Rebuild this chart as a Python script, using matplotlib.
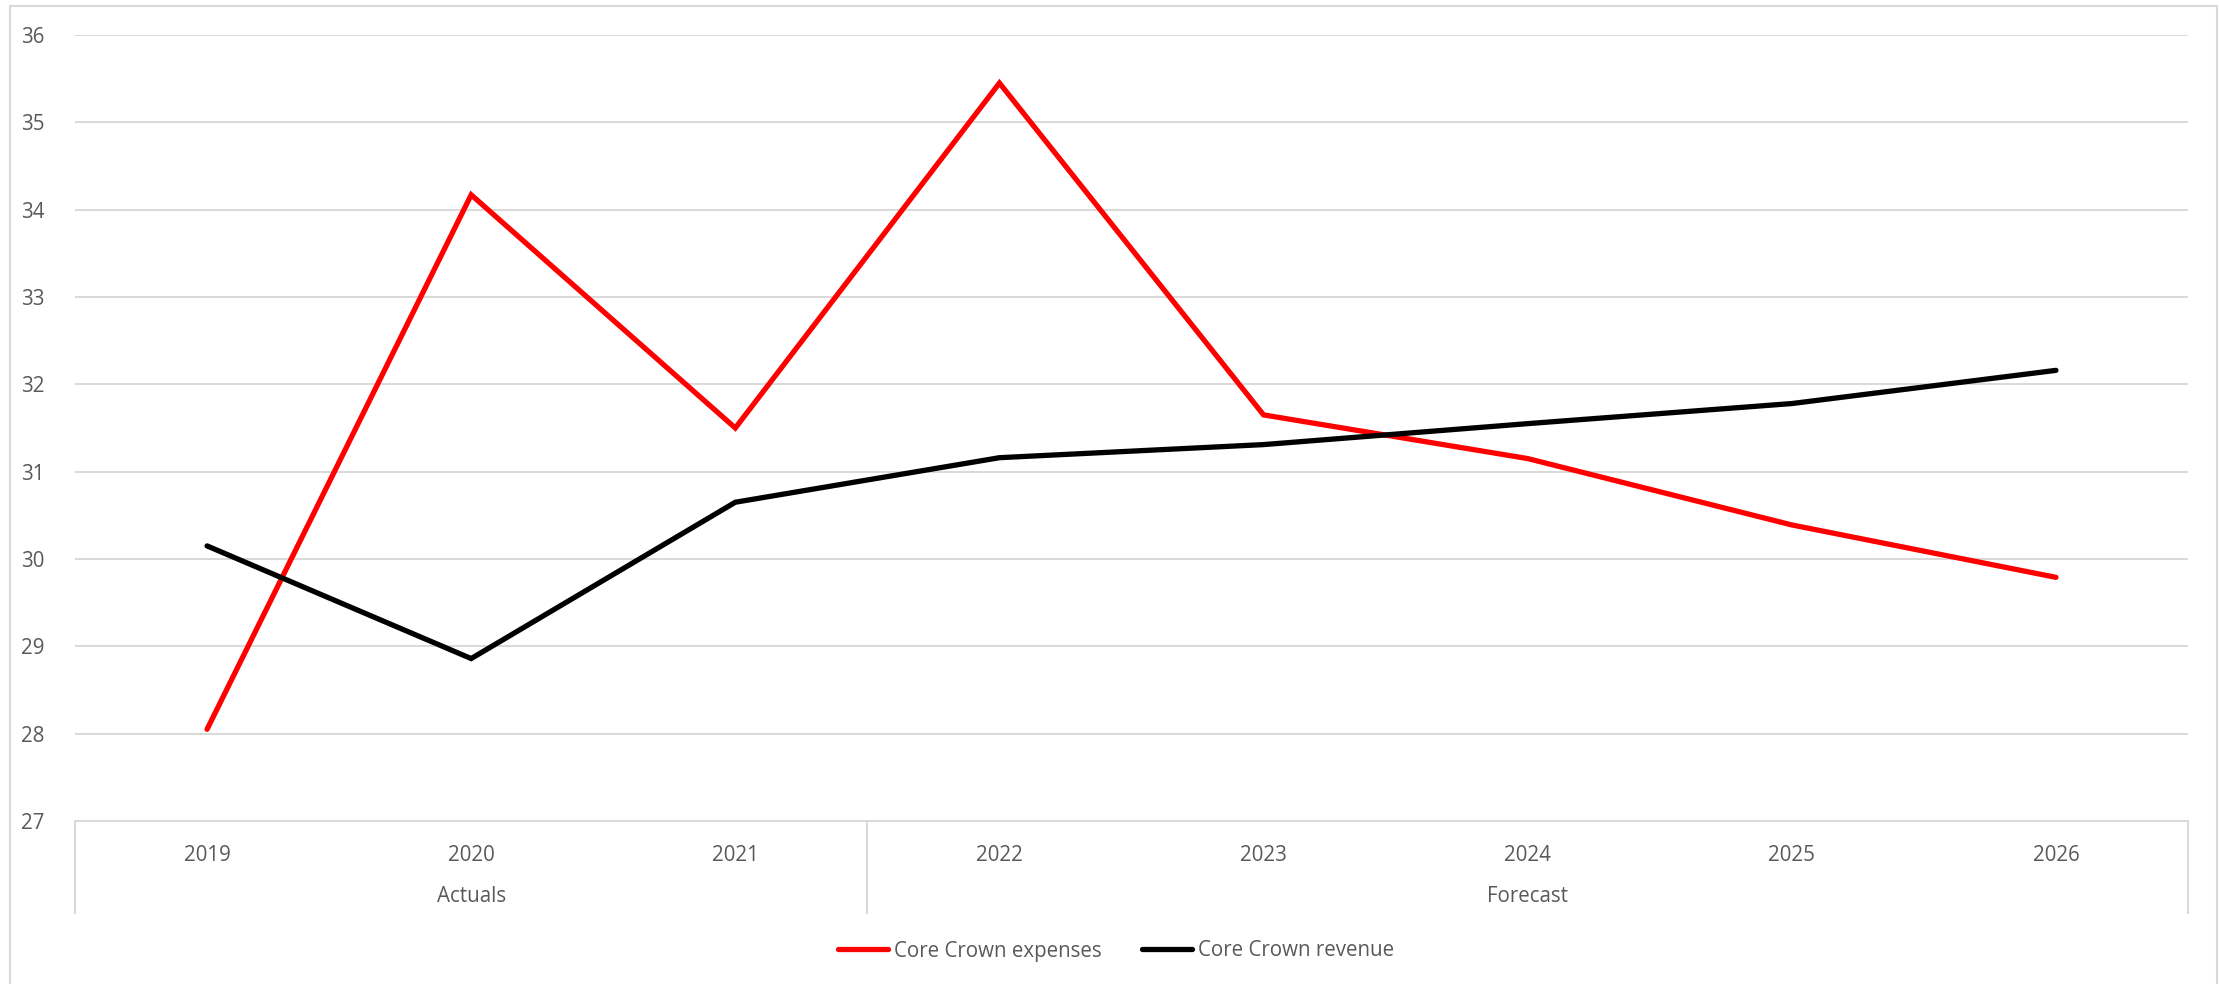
import matplotlib.pyplot as plt
from matplotlib.patches import Rectangle

# Données
years = ["2019", "2020", "2021", "2022", "2023", "2024", "2025", "2026"]
groups = ["Actuals", "Forecast"]
group_sizes = [3, 5]
expenses = [28.05, 34.17, 31.5, 35.45, 31.65, 31.15, 30.39, 29.79]
revenue = [30.15, 28.86, 30.65, 31.16, 31.31, 31.55, 31.78, 32.16]

plt.rcParams['font.family'] = ['Open Sans', 'DejaVu Sans']
txt = "#595959"
grid = "#d9d9d9"
fs = 14.8

W, H = 2219, 984
fig = plt.figure(figsize=(W / 100, H / 100), dpi=100)
ax = fig.add_axes([75 / W, 1 - 821 / H, (2188 - 75) / W, (821 - 35) / H])

x = range(len(years))
ax.plot(x, expenses, color="#ff0000", lw=3.8, solid_capstyle="round",
        solid_joinstyle="miter", label="Core Crown expenses", zorder=3)
ax.plot(x, revenue, color="black", lw=3.8, solid_capstyle="round",
        solid_joinstyle="miter", label="Core Crown revenue", zorder=3)

ax.set_xlim(-0.5, len(years) - 0.5)
ax.set_ylim(27, 36)
ax.set_yticks(range(27, 37))
ax.yaxis.grid(True, color=grid, lw=1.4)
ax.set_axisbelow(True)
for s in ["top", "right", "left"]:
    ax.spines[s].set_visible(False)
ax.spines["bottom"].set_color(grid)
ax.spines["bottom"].set_linewidth(1.4)
ax.tick_params(axis="y", length=0, pad=22, labelsize=fs, labelcolor=txt)

# Axe des catégories (années + groupes)
ax.set_xticks(list(x))
ax.set_xticklabels(years)
ax.tick_params(axis="x", length=0, pad=17, labelsize=fs, labelcolor=txt)

tr = ax.get_xaxis_transform()
axh = 821 - 35
y_grp = -(897 - 821) / axh
y_bot = -(913 - 821) / axh
start = -0.5
bounds = [start]
for g, n in zip(groups, group_sizes):
    ax.text(start + n / 2, y_grp, g, transform=tr, ha="center", va="center",
            fontsize=fs, color=txt)
    start += n
    bounds.append(start)
for b in bounds:
    ax.plot([b, b], [0, y_bot], transform=tr, color=grid, lw=1.4, clip_on=False)

fig.legend(loc="center", bbox_to_anchor=(0.503, 1 - 951 / H), ncol=2, frameon=False,
           fontsize=fs, labelcolor=txt, handlelength=2.4, handletextpad=0.3,
           columnspacing=2.0)

# Bordure du graphique
fig.patches.append(Rectangle((10 / W, -0.1), (2217 - 10) / W, 1.1 - 6 / H,
                             transform=fig.transFigure, fill=False,
                             edgecolor=grid, lw=1.5))

fig.savefig("out.png", dpi=100)
